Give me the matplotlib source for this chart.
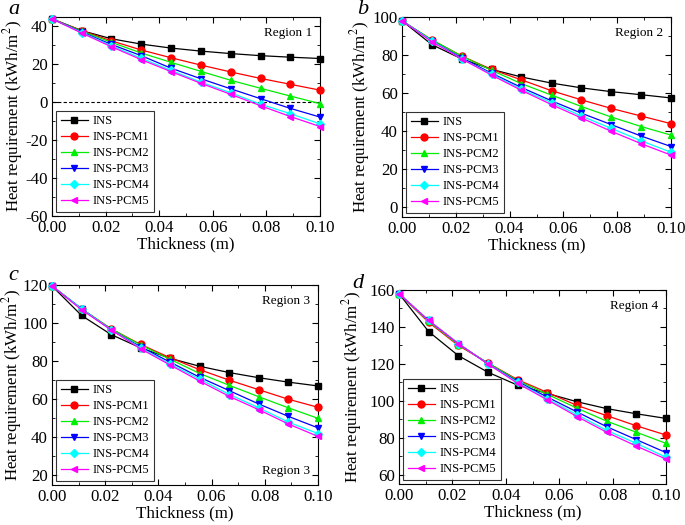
import matplotlib
matplotlib.use("Agg")
import matplotlib.pyplot as plt
import numpy as np
from matplotlib.ticker import MultipleLocator

plt.rcParams['font.family'] = ['Liberation Serif', 'DejaVu Serif']
plt.rcParams['mathtext.fontset'] = 'stix'
plt.rcParams['axes.unicode_minus'] = False

# espessura (m) - 10 pontos de 0 a 0.1
espessura = [0.0, 0.0111, 0.0222, 0.0333, 0.0444, 0.0556, 0.0667, 0.0778, 0.0889, 0.1]

series = ['INS', 'INS-PCM1', 'INS-PCM2', 'INS-PCM3', 'INS-PCM4', 'INS-PCM5']

# Region 1
reg1_ins = [44, 37.8, 33.5, 30.7, 28.6, 27.0, 25.7, 24.6, 23.8, 23.1]
reg1_pcm1 = [44, 37.8, 32.4, 27.6, 23.5, 19.6, 16.0, 12.6, 9.5, 6.4]
reg1_pcm2 = [44, 37.5, 31.6, 26.0, 21.1, 16.3, 11.6, 7.4, 3.3, -0.7]
reg1_pcm3 = [44, 37.1, 30.5, 24.6, 18.0, 12.4, 7.1, 1.9, -3.2, -7.8]
reg1_pcm4 = [44, 36.8, 29.8, 23.2, 16.8, 10.6, 5.0, -1.0, -6.0, -11.4]
reg1_pcm5 = [44, 36.5, 29.3, 22.5, 16.2, 10.0, 4.2, -1.8, -7.5, -12.8]

# Region 2
reg2_ins = [98, 85.5, 78.0, 72.5, 68.5, 65.3, 62.8, 60.8, 59.2, 57.5]
reg2_pcm1 = [98, 88.0, 79.5, 72.5, 67.0, 61.3, 56.5, 52.0, 48.0, 44.0]
reg2_pcm2 = [98, 88.0, 79.5, 72.0, 65.0, 59.0, 53.0, 47.5, 42.5, 38.0]
reg2_pcm3 = [98, 87.5, 78.5, 70.5, 63.0, 56.0, 49.5, 43.5, 37.5, 32.0]
reg2_pcm4 = [98, 87.5, 78.0, 70.0, 62.0, 55.0, 48.0, 41.5, 35.0, 29.0]
reg2_pcm5 = [98, 87.0, 78.0, 69.5, 61.5, 54.0, 47.0, 40.0, 33.5, 27.5]

# Region 3
reg3_ins = [119.5, 104.0, 94.0, 87.0, 81.5, 77.3, 74.0, 71.3, 69.0, 67.0]
reg3_pcm1 = [119.5, 107.5, 97.0, 88.8, 81.8, 75.5, 70.0, 65.0, 60.0, 55.8]
reg3_pcm2 = [119.5, 107.5, 97.0, 88.5, 81.0, 73.5, 67.3, 61.3, 55.5, 50.0]
reg3_pcm3 = [119.5, 107.5, 96.5, 87.5, 79.5, 71.5, 64.5, 57.5, 51.0, 45.0]
reg3_pcm4 = [119.5, 107.5, 96.5, 87.0, 78.5, 70.5, 62.5, 55.5, 48.0, 42.0]
reg3_pcm5 = [119.5, 107.0, 96.5, 86.5, 78.0, 69.5, 61.5, 54.5, 47.0, 40.5]

# Region 4
reg4_ins = [158, 137.5, 124.5, 115.5, 108.5, 104.0, 99.5, 95.8, 93.0, 90.5]
reg4_pcm1 = [158, 142.5, 130.0, 120.5, 111.5, 104.5, 97.5, 92.0, 86.5, 81.5]
reg4_pcm2 = [158, 143.0, 130.5, 120.5, 111.0, 103.5, 96.0, 89.0, 83.0, 77.0]
reg4_pcm3 = [158, 143.5, 131.0, 120.0, 110.5, 102.0, 94.0, 86.0, 79.0, 72.0]
reg4_pcm4 = [158, 143.5, 131.0, 120.0, 110.0, 101.0, 92.5, 84.0, 77.0, 69.5]
reg4_pcm5 = [158, 143.5, 131.0, 120.0, 109.5, 100.5, 91.5, 83.0, 75.5, 68.5]

cores = ['black', 'red', '#00ee00', 'blue', 'cyan', 'magenta']
marcadores = ['s', 'o', '^', 'v', 'D', '<']

fig = plt.figure(figsize=(6.85, 5.25), dpi=100)

# posicoes dos eixos em pixels (esq, topo, dir, base)
caixas = [(52, 17, 320, 216), (402, 17, 671, 217), (52, 285, 318, 485), (399, 290, 666, 484)]

paineis = [
    ('a', [reg1_ins, reg1_pcm1, reg1_pcm2, reg1_pcm3, reg1_pcm4, reg1_pcm5], (-60, 45), 20),
    ('b', [reg2_ins, reg2_pcm1, reg2_pcm2, reg2_pcm3, reg2_pcm4, reg2_pcm5], (-5, 100), 20),
    ('c', [reg3_ins, reg3_pcm1, reg3_pcm2, reg3_pcm3, reg3_pcm4, reg3_pcm5], (15, 120), 20),
    ('d', [reg4_ins, reg4_pcm1, reg4_pcm2, reg4_pcm3, reg4_pcm4, reg4_pcm5], (55, 160), 20),
]
regioes = ['Region 1', 'Region 2', 'Region 3', 'Region 4']
# posicao das letras (px)
letras_pos = [(8, 9), (357, 9), (8, 276), (352, 283)]
# centro x do rotulo y (px)
ylabel_x = [13, 360, 12, 352]

W, H = 685, 525
for i, (letra, dados, ylim, passo) in enumerate(paineis):
    l, t, r, b = caixas[i]
    ax = fig.add_axes([l / W, 1 - b / H, (r - l) / W, (b - t) / H])
    for j, y in enumerate(dados):
        ax.plot(espessura, y, color=cores[j], marker=marcadores[j], markersize=5 if marcadores[j] != 'D' else 4,
                linewidth=0.9, label=series[j], clip_on=False, zorder=3)
    if i == 0:
        ax.axhline(0, color='black', linestyle='--', linewidth=0.8, dashes=(3, 2))
    ax.set_xlim(0, 0.1)
    ax.set_ylim(*ylim)
    ax.xaxis.set_major_locator(MultipleLocator(0.02))
    ax.xaxis.set_minor_locator(MultipleLocator(0.01))
    ax.yaxis.set_major_locator(MultipleLocator(passo))
    ax.yaxis.set_minor_locator(MultipleLocator(passo / 2))
    ax.xaxis.set_major_formatter(matplotlib.ticker.FormatStrFormatter('%.2f'))
    ax.tick_params(which='both', direction='in', top=True, right=True, labelsize=12.2, pad=3)
    ax.tick_params(which='major', length=4, width=0.8)
    ax.tick_params(which='minor', length=2.5, width=0.6)
    for s in ax.spines.values():
        s.set_linewidth(0.8)
    ax.set_xlabel('Thickness (m)', fontsize=12.2, labelpad=0)
    ax.set_ylabel('Heat requirement (kWh/m$^2$)', fontsize=12.2, va='center')
    ax.yaxis.set_label_coords((ylabel_x[i] - l) / (r - l), 0.5)
    ax.text(0.97, 0.95, regioes[i], transform=ax.transAxes, ha='right', va='top', fontsize=9.5)
    if i == 2:
        ax.text(0.97, 0.04, regioes[i], transform=ax.transAxes, ha='right', va='bottom', fontsize=9.5)
    fig.text(letras_pos[i][0] / W, 1 - letras_pos[i][1] / H, letra, fontsize=16, style='italic',
             ha='left', va='center')
    leg = ax.legend(loc='lower left', fontsize=8.9, frameon=True, fancybox=False, edgecolor='black',
                    borderaxespad=0.35, handlelength=2.2, handletextpad=0.4, labelspacing=0.33, borderpad=0.35)
    leg.get_frame().set_linewidth(0.8)

fig.savefig('out.png', dpi=100)
